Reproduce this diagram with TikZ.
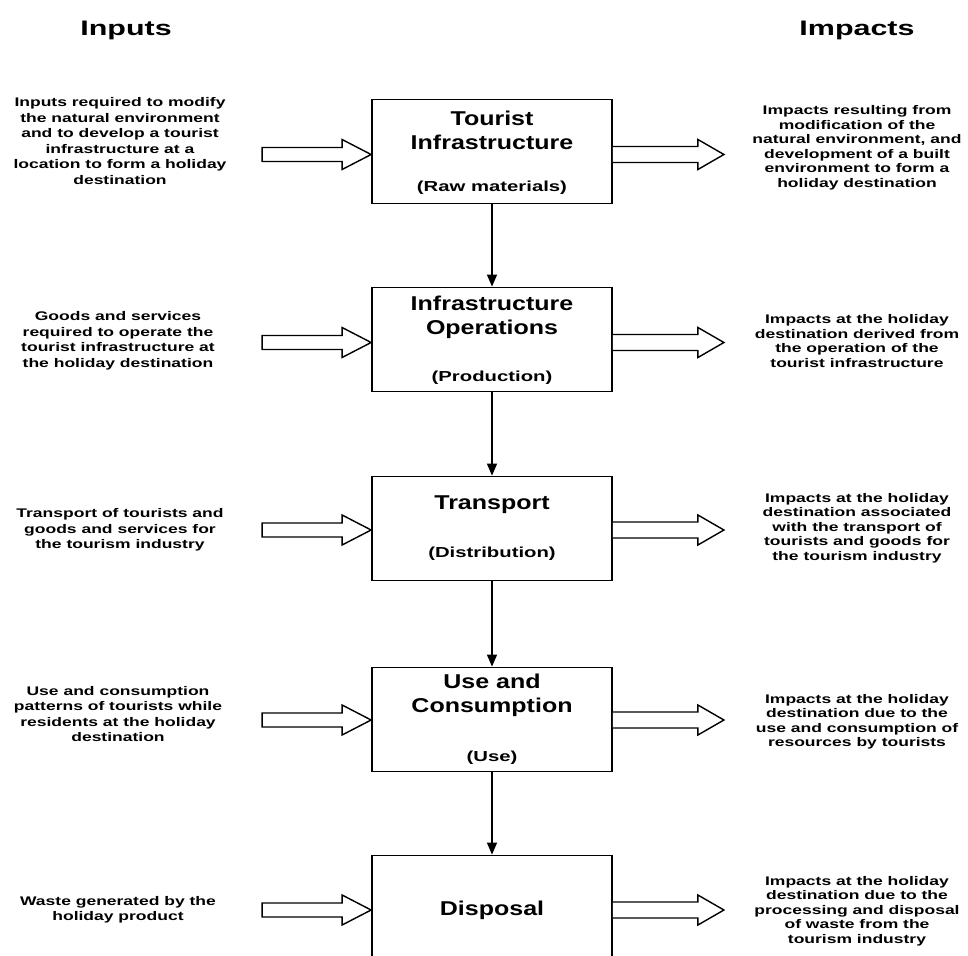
\documentclass[tikz,border=0pt]{standalone}
\usepackage{fontspec}
\setmainfont{Liberation Sans}
\newfontfamily\smallwide[FakeStretch=1.4]{Liberation Sans}
\newfontfamily\titlewide[FakeStretch=1.25]{Liberation Sans}
\newfontfamily\headwide[FakeStretch=1.45]{Liberation Sans}
\usetikzlibrary{arrows.meta}
\tikzset{
  stage/.style={draw, line width=1.8pt, minimum width=240pt, minimum height=104pt, inner sep=0pt},
  heading/.style={font=\headwide\bfseries\fontsize{21}{24}\selectfont, inner sep=0pt},
  ttl/.style={font=\titlewide\bfseries\fontsize{20}{24}\selectfont, align=center, inner sep=0pt},
  sub/.style={font=\smallwide\bfseries\fontsize{14.5}{17}\selectfont, inner sep=0pt},
  lefttext/.style={font=\smallwide\bfseries\fontsize{12.5}{15.5}\selectfont, align=center, inner sep=0pt},
  righttext/.style={font=\smallwide\bfseries\fontsize{12.5}{14.5}\selectfont, align=center, inner sep=0pt},
  flow/.style={line width=1.4pt, -{Triangle[length=12pt,width=10pt]}},
  blockarrow/.style={line width=1.4pt, fill=white, line join=miter},
}
\begin{document}
\begin{tikzpicture}[x=1pt, y={(0pt,-1pt)}]
\useasboundingbox (0,0) rectangle (968,955);
\clip (0,0) rectangle (968,955);

% headings
\node[heading] (hin) at (126,30) {Inputs};
\node[heading] (himp) at (857,30) {Impacts};

% stage boxes
\node[stage] (b1) at (492,151.5) {};
\node[stage] (b2) at (492,339.5) {};
\node[stage] (b3) at (492,528.5) {};
\node[stage] (b4) at (492,719.5) {};
\node[stage] (b5) at (492,907.5) {};

% box texts
\node[ttl] (t1) at (492,130) {Tourist\\Infrastructure};
\node[sub] (s1) at (492,188) {(Raw materials)};
\node[ttl] (t2) at (492,317.5) {Infrastructure\\Operations};
\node[sub] (s2) at (492,378) {(Production)};
\node[ttl] (t3) at (492,505) {Transport};
\node[sub] (s3) at (492,554) {(Distribution)};
\node[ttl] (t4) at (492,695.5) {Use and\\Consumption};
\node[sub] (s4) at (492,758) {(Use)};
\node[ttl] (t5) at (492,910) {Disposal};

% vertical flow arrows
\draw[flow] (b1.south) -- (b2.north);
\draw[flow] (b2.south) -- (b3.north);
\draw[flow] (b3.south) -- (b4.north);
\draw[flow] (b4.south) -- (b5.north);

% left texts
\node[lefttext] (l1) at (120,141) {Inputs required to modify\\the natural environment\\and to develop a tourist\\infrastructure at a\\location to form a holiday\\destination};
\node[lefttext] (l2) at (118,341) {Goods and services\\required to operate the\\tourist infrastructure at\\the holiday destination};
\node[lefttext] (l3) at (120,530) {Transport of tourists and\\goods and services for\\the tourism industry};
\node[lefttext] (l4) at (118,714) {Use and consumption\\patterns of tourists while\\residents at the holiday\\destination};
\node[lefttext] (l5) at (118,910) {Waste generated by the\\holiday product};

% right texts
\node[righttext] (r1) at (857,148) {Impacts resulting from\\modification of the\\natural environment, and\\development of a built\\environment to form a\\holiday destination};
\node[righttext] (r2) at (857,341) {Impacts at the holiday\\destination derived from\\the operation of the\\tourist infrastructure};
\node[righttext] (r3) at (857,528) {Impacts at the holiday\\destination associated\\with the transport of\\tourists and goods for\\the tourism industry};
\node[righttext] (r4) at (857,722) {Impacts at the holiday\\destination due to the\\use and consumption of\\resources by tourists};
\node[righttext] (r5) at (857,911) {Impacts at the holiday\\destination due to the\\processing and disposal\\of waste from the\\tourism industry};

% block arrows (inputs)
\foreach \b/\dy in {b1/3, b2/3, b3/1.5, b4/0.5, b5/2.5}{
  \draw[blockarrow, shift={(\b.west)}, yshift=-\dy pt]
    (-109,-7) -- (-29,-7) -- (-29,-15) -- (0,0) -- (-29,15) -- (-29,7) -- (-109,7) -- cycle;
  \draw[blockarrow, shift={(\b.east)}, yshift=-\dy pt]
    (0,-8) -- (85,-8) -- (85,-15) -- (111,0) -- (85,15) -- (85,8) -- (0,8);
}
\end{tikzpicture}
\end{document}
